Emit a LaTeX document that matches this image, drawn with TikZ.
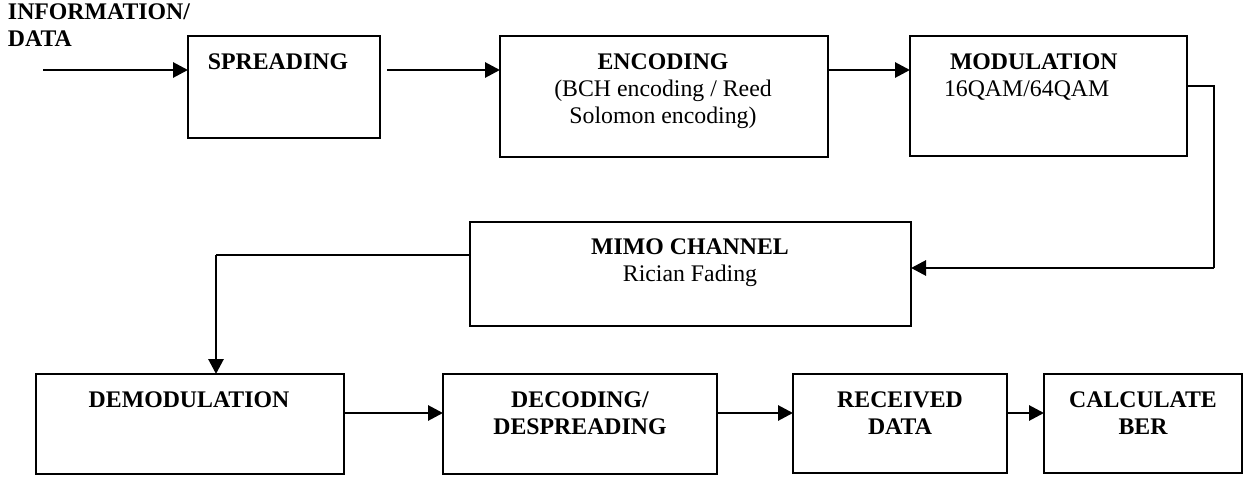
\documentclass[tikz,border=0pt]{standalone}
\usepackage{fontspec}
\setmainfont{Liberation Serif}
\usetikzlibrary{arrows.meta}
\begin{document}
\begin{tikzpicture}[x=1pt,y=-1pt,
  box/.style={draw, line width=2.1pt, inner sep=0pt, outer sep=0pt},
  txt/.style={inner sep=0pt, outer sep=0pt, anchor=base, align=center, font=\fontsize{23.8}{27}\selectfont},
  conn/.style={line width=2.9pt, -{Triangle[length=15pt,width=15pt]}},
  plainline/.style={line width=2.3pt}]
\useasboundingbox (0,0) rectangle (1245,478);
% boxes
\node[box, minimum width=192pt, minimum height=102pt] (spread) at (284,87) {};
\node[box, minimum width=328pt, minimum height=121pt] (enc) at (664,96.5) {};
\node[box, minimum width=277pt, minimum height=120pt] (mod) at (1048.5,96) {};
\node[box, minimum width=441pt, minimum height=104pt] (mimo) at (690.5,274) {};
\node[box, minimum width=308pt, minimum height=100pt] (demod) at (190,424) {};
\node[box, minimum width=274pt, minimum height=100pt] (decod) at (580,424) {};
\node[box, minimum width=214pt, minimum height=99pt] (recv) at (900,423.5) {};
\node[box, minimum width=198pt, minimum height=99pt] (calc) at (1143,423.5) {};
% texts (anchor base = baseline of last line)
\node[txt, anchor=base west, align=left] (info) at (8,47) {\bfseries INFORMATION/\\\bfseries DATA};
\node[txt] (tspread) at (278,70) {\bfseries SPREADING};
\node[txt] (tenc) at (663,124) {\bfseries ENCODING\\(BCH encoding / Reed\\Solomon encoding)};
\node[txt, anchor=base west, align=left] (tmod) at (944,97) {\hspace{6pt}\bfseries MODULATION\\16QAM/64QAM};
\node[txt] (tmimo) at (690,282) {\bfseries MIMO CHANNEL\\Rician Fading};
\node[txt] (tdemod) at (189,407) {\bfseries DEMODULATION};
\node[txt] (tdecod) at (580,434) {\bfseries DECODING/\\\bfseries DESPREADING};
\node[txt] (trecv) at (900,434) {\bfseries RECEIVED\\\bfseries DATA};
\node[txt] (tcalc) at (1143,434) {\bfseries CALCULATE\\\bfseries BER};
% helper coordinates
\coordinate (in) at (43,70);
\coordinate (rowA) at (0,70);
\coordinate (c1) at (1214,86);
\coordinate (c2) at (1214,268);
\coordinate (c3) at (216,255);
\coordinate (rowB) at (0,413);
% connectors
\draw[conn] (in) -- (rowA -| spread.west);
\draw[conn] (rowA -| spread.east) ++(7,0) -- (rowA -| enc.west);
\draw[conn] (rowA -| enc.east) -- (rowA -| mod.west);
\draw[plainline] (c1 -| mod.east) -- (c1) -- (c2);
\draw[conn] (c2) -- (c2 -| mimo.east);
\draw[plainline] (c3 -| mimo.west) -- (c3);
\draw[conn] (c3) -- (c3 |- demod.north);
\draw[conn] (rowB -| demod.east) -- (rowB -| decod.west);
\draw[conn] (rowB -| decod.east) -- (rowB -| recv.west);
\draw[conn] (rowB -| recv.east) -- (rowB -| calc.west);
\end{tikzpicture}
\end{document}
